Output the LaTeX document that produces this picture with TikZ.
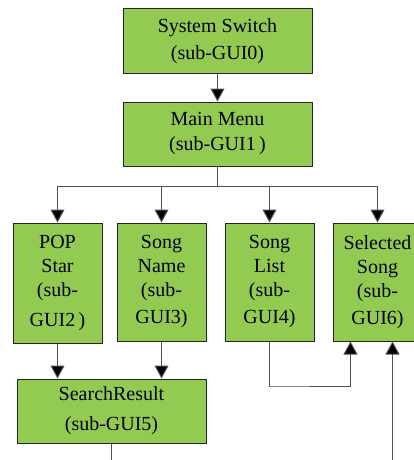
\documentclass[tikz,border=0pt]{standalone}
\usepackage{fontspec}
\setmainfont{Liberation Serif}
\usetikzlibrary{arrows.meta}
\definecolor{boxgreen}{RGB}{146,202,82}
\definecolor{linegray}{RGB}{80,80,80}
\begin{document}
\begin{tikzpicture}[x=1pt,y=-1pt,
  box/.style={draw=black!85, fill=boxgreen, line width=1pt, inner sep=0pt,
    align=center, font=\fontsize{20}{24}\selectfont},
  widebox/.style={box, minimum width=189pt, minimum height=64pt},
  tallbox/.style={box, minimum width=89pt, minimum height=118pt},
  link/.style={draw=linegray, line width=1pt},
  tip/.style={link, -{Triangle[length=13pt,width=14pt,fill=black]}}
]
\useasboundingbox (0,0) rectangle (414,460);
\clip (0,0) rectangle (414,460);

% screens
\node[widebox] (sw) at (217.5,41) {System Switch\\[3pt](sub-GUI0)};
\node[widebox] (mm) at (217.5,134) {Main Menu\\[1pt](sub-GUI1\,)};
\node[tallbox, minimum height=120pt] (pop) at (57.5,283) {POP\\Star\\(sub-\\[6pt]GUI2\,)};
\node[tallbox] (name) at (161.5,282) {Song\\Name\\(sub-\\[3pt]GUI3)};
\node[tallbox] (list) at (269.5,282) {Song\\List\\(sub-\\[3pt]GUI4)};
\node[tallbox] (sel) at (377.5,282) {Selected\\Song\\(sub-\\[3pt]GUI6)};
\node[widebox] (res) at (111.5,411) {SearchResult\\[6pt](sub-GUI5)};

% helper points
\coordinate (bus) at (218,186);
\coordinate (loop) at (269,386);
\coordinate (bottom) at (0,465);

% System Switch -> Main Menu
\draw[tip] (sw) -- (mm);

% Main Menu fans out to the four screens
\draw[link] (mm.south) -- (mm.south |- bus);
\draw[link] (pop.north |- bus) -- (sel.north |- bus);
\foreach \n in {pop,name,list,sel}
  \draw[tip] (\n.north |- bus) -- (\n.north);

% searches lead to the result screen
\draw[tip] (pop.south) -- (pop.south |- res.north);
\draw[tip] (name.south) -- (name.south |- res.north);
\draw[link] (res.south) -- (res.south |- bottom);

% into Selected Song
\draw[tip] (list.south) |- (loop) -| ([xshift=-27pt]sel.south);
\draw[tip] ([xshift=15pt]sel.south |- bottom) -- ([xshift=15pt]sel.south);
\end{tikzpicture}
\end{document}
